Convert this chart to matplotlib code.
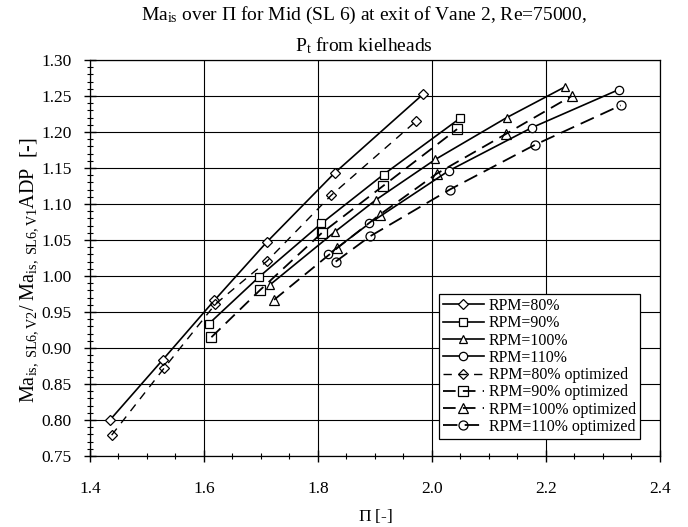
import matplotlib
matplotlib.use("Agg")
import matplotlib.pyplot as plt
from matplotlib.ticker import MultipleLocator

plt.rcParams["font.family"] = ["Liberation Serif", "DejaVu Serif"]
plt.rcParams["mathtext.fontset"] = "custom"
plt.rcParams["mathtext.rm"] = "Liberation Serif"
plt.rcParams["mathtext.it"] = "Liberation Serif:italic"

# baseline (solid) series
pi_80 = [1.435, 1.528, 1.618, 1.710, 1.829, 1.985]
ma_80 = [0.800, 0.884, 0.966, 1.047, 1.143, 1.253]
pi_90 = [1.609, 1.697, 1.806, 1.915, 2.049]
ma_90 = [0.934, 0.999, 1.073, 1.141, 1.219]
pi_100 = [1.716, 1.829, 1.902, 2.006, 2.131, 2.234]
ma_100 = [0.988, 1.061, 1.106, 1.162, 1.220, 1.263]
pi_110 = [1.818, 1.890, 2.029, 2.175, 2.328]
ma_110 = [1.030, 1.073, 1.146, 1.206, 1.259]

# optimized (dashed) series
pi_80o = [1.438, 1.530, 1.620, 1.711, 1.823, 1.972]
ma_80o = [0.779, 0.872, 0.961, 1.021, 1.112, 1.215]
pi_90o = [1.613, 1.699, 1.807, 1.914, 2.044]
ma_90o = [0.915, 0.981, 1.060, 1.125, 1.204]
pi_100o = [1.723, 1.834, 1.908, 2.008, 2.129, 2.245]
ma_100o = [0.967, 1.039, 1.085, 1.142, 1.197, 1.250]
pi_110o = [1.831, 1.891, 2.031, 2.180, 2.331]
ma_110o = [1.020, 1.055, 1.120, 1.182, 1.237]

fig = plt.figure(figsize=(6.88, 5.27), dpi=100)
ax = fig.add_axes([0.1308, 0.1347, 0.8285, 0.7514])

solid = dict(color="black", linestyle="-", linewidth=1.2, markerfacecolor="white",
             markeredgecolor="black", markeredgewidth=0.9, markersize=6)
dashed = dict(color="black", linestyle=(0, (7, 4)), linewidth=1.3, markerfacecolor="none",
              markeredgecolor="black", markeredgewidth=0.9, markersize=6.5)

ax.plot(pi_80, ma_80, marker="D", label="RPM=80%", **{**solid, "markersize": 4.8})
ax.plot(pi_90, ma_90, marker="s", label="RPM=90%", **solid)
ax.plot(pi_100, ma_100, marker="^", label="RPM=100%", **solid)
ax.plot(pi_110, ma_110, marker="o", label="RPM=110%", **solid)
ax.plot(pi_80o, ma_80o, marker="D", label="RPM=80% optimized",
        **{**dashed, "markersize": 5.5, "linewidth": 1.0, "linestyle": (0, (6, 5))})
ax.plot(pi_90o, ma_90o, marker="s", label="RPM=90% optimized", **{**dashed, "markersize": 7})
ax.plot(pi_100o, ma_100o, marker="^", label="RPM=100% optimized", **{**dashed, "markersize": 7.5})
ax.plot(pi_110o, ma_110o, marker="o", label="RPM=110% optimized", **{**dashed, "linestyle": (0, (8, 4))})

ax.set_xlim(1.4, 2.4)
ax.set_ylim(0.75, 1.30)
ax.xaxis.set_major_locator(MultipleLocator(0.2))
ax.xaxis.set_minor_locator(MultipleLocator(0.05))
ax.yaxis.set_major_locator(MultipleLocator(0.05))
ax.yaxis.set_minor_locator(MultipleLocator(0.01))
ax.xaxis.set_major_formatter(plt.FuncFormatter(lambda v, p: f"{v:.1f}"))
ax.yaxis.set_major_formatter(plt.FuncFormatter(lambda v, p: f"{v:.2f}"))
ax.tick_params(which="major", direction="inout", length=8, width=1, labelsize=12.5, colors="black")
ax.tick_params(which="minor", direction="inout", length=5, width=0.8)
ax.tick_params(axis="x", which="major", pad=14)
ax.tick_params(axis="y", which="major", pad=9)
ax.grid(True, which="major", color="black", linewidth=0.8)
for s in ax.spines.values():
    s.set_linewidth(0.9)

ax.set_xlabel(r"$\Pi$ [-]", fontsize=12.5, labelpad=7)
ax.set_ylabel(r"Ma$_{\mathrm{is,\ SL6,V2}}$/ Ma$_{\mathrm{is,\ SL6,V1}}$ADP  [-]", fontsize=14.5)
ax.yaxis.set_label_coords(-0.088, 0.47)

fig.text(0.529, 0.9715, r"Ma$_{\mathrm{is}}$ over $\Pi$ for Mid (SL 6) at exit of Vane 2, Re=75000,",
         ha="center", va="center", fontsize=14)
fig.text(0.529, 0.913, r"P$_{\mathrm{t}}$ from kielheads", ha="center", va="center", fontsize=14)

leg = ax.legend(loc="upper left", bbox_to_anchor=(0.612, 0.409), fontsize=11.4, frameon=True,
                fancybox=False, edgecolor="black", framealpha=1, handlelength=2.6,
                handletextpad=0.3, labelspacing=0.08, borderpad=0.25, borderaxespad=0)
leg.get_frame().set_linewidth(0.9)

fig.savefig("out.png", dpi=100)
